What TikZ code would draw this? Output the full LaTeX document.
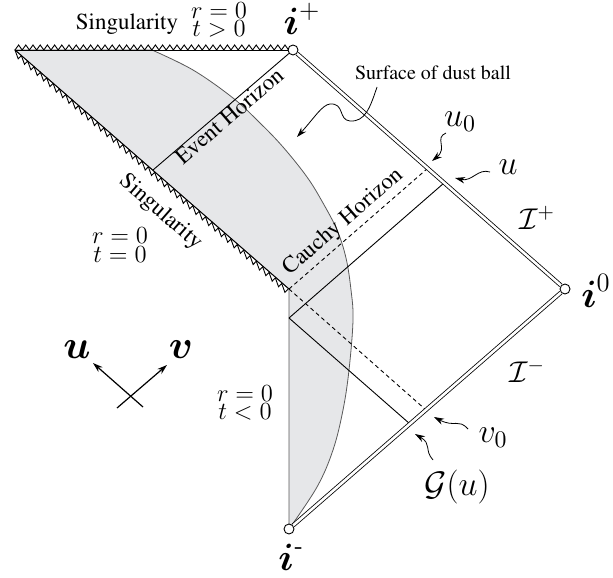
\RequirePackage{fix-cm}
\documentclass[tikz,border=0pt]{standalone}
\usepackage{amsmath}
\usepackage[T1]{fontenc}
\usepackage{times}
\usetikzlibrary{arrows.meta}
\definecolor{ballgray}{RGB}{230,231,233}

\begin{document}
\begin{tikzpicture}[x=0.5pt, y=-0.5pt, line width=0.45pt, >={Stealth[length=5pt,width=3.2pt]}]
  \tikzset{
    dot/.style={circle, draw, fill=white, minimum size=5pt, inner sep=0pt},
    scri/.style={draw=black, double=white, double distance=1.3pt, line width=0.4pt},
    cauchy/.style={dash pattern=on 2pt off 1.6pt},
    txt/.style={font=\fontsize{11.5}{11.5}\selectfont, inner sep=1pt},
    rt/.style={font=\fontsize{12.3}{9.2}\selectfont, align=center, inner sep=0pt},
    mlbl/.style={font=\fontsize{17}{17}\selectfont, inner sep=0pt},
    ilbl/.style={font=\fontsize{19}{19}\selectfont, inner sep=0pt},
    scrlbl/.style={font=\fontsize{15}{15}\selectfont, inner sep=0pt},
    squig/.style={->, line width=0.4pt}
  }
  \useasboundingbox (0,0) rectangle (613,577);

  % points of the diagram
  \coordinate (tl) at (15,50);
  \coordinate (cr) at (289,289);
  \coordinate (eh) at (153,170);
  \coordinate (uv) at (289,318);
  \coordinate (uo) at (428,168);
  \coordinate (ue) at (444,183);
  \coordinate (vo) at (426,410);
  \coordinate (ge) at (410,424);

  % dust ball
  \filldraw[fill=ballgray, draw=black!65, line width=0.4pt] (tl) -- plot[smooth, tension=0.6] coordinates {(152,50) (193,70) (233,98) (260,123) (283,147) (307,177) (323,203) (337,230) (346,258) (351,290) (353,320) (349,370) (343,410) (333,450) (317,487) (289,529)} -- (cr) -- cycle;

  \node[dot] (ip) at (293,50) {};
  \node[dot] (io) at (565,289) {};
  \node[dot] (im) at (289,529) {};

  % singularities
  \draw (tl) -- (ip);
  \draw (tl) \foreach \k in {1,...,38} { -- ++(3.6,-5) -- ++(3.6,5) };
  \draw (tl) -- node[sloped, below, txt, inner sep=8pt, pos=0.595] {Singularity} (cr);
  \draw (tl) \foreach \k in {1,...,43} { -- ++(3.175,8.78) -- ++(3.175,-3.22) };

  % horizons and rays
  \draw (eh) -- node[sloped, below, txt, inner sep=0pt, pos=0.52] {Event Horizon} (ip);
  \draw[cauchy] (cr) -- node[sloped, above, txt, inner sep=2pt, pos=0.46] {Cauchy Horizon} (uo);
  \draw[cauchy] (cr) -- (vo);
  \draw (uv) -- (ue);
  \draw (uv) -- (ge);

  % null infinity
  \draw[scri] (ip) -- (io);
  \draw[scri] (im) -- (io);

  % labels
  \node[txt] (singtop) at (127,24) {Singularity};
  \node[rt] (rtpos) at (219,20) {$r=0$\\$t>0$};
  \node[rt] (rtzero) at (120,245) {$r=0$\\$t=0$};
  \node[rt] (rtneg) at (245,403) {$r=0$\\$t<0$};
  \node[font=\fontsize{10}{10}\selectfont, inner sep=0pt] (surf) at (433,73) {Surface of dust ball};
  \node[ilbl] (iplbl) at (302,19) {$\boldsymbol{i}^{+}$};
  \node[ilbl] (iolbl) at (596,291) {$\boldsymbol{i}^{0}$};
  \node[ilbl] (imlbl) at (291,557) {$\boldsymbol{i}^{\textrm{-}}$};
  \node[mlbl] (u0lbl) at (460,122) {$u_0$};
  \node[mlbl] (ulbl) at (508,167) {$u$};
  \node[mlbl] (v0lbl) at (493,438) {$v_0$};
  \node[mlbl] (glbl) at (457,487) {$\mathcal{G}(u)$};
  \node[scrlbl] (scrp) at (537,218) {$\mathcal{I}^{+}$};
  \node[scrlbl] (scrm) at (527,371) {$\mathcal{I}^{-}$};

  % pointers
  \coordinate (surft) at (377,87);
  \coordinate (surfh) at (297,137);
  \coordinate (u0t) at (446,133);
  \coordinate (u0h) at (432,161);
  \coordinate (ut) at (490,172);
  \coordinate (uh) at (455,178);
  \coordinate (v0t) at (468,429);
  \coordinate (v0h) at (434,417);
  \coordinate (gt) at (433,460);
  \coordinate (gh) at (415,434);
  \draw[squig] (surft) .. controls (370,108) and (365,122) .. (350,121) .. controls (338,120) and (345,103) .. (330,104) .. controls (322,105) and (315,117) .. (surfh);
  \draw[squig] (u0t) .. controls (434,138) and (448,148) .. (u0h);
  \draw[squig] (ut) .. controls (478,168) and (472,182) .. (uh);
  \draw[squig] (v0t) .. controls (458,418) and (455,428) .. (v0h);
  \draw[squig] (gt) .. controls (424,450) and (432,444) .. (gh);

  % u and v directions
  \coordinate (axut) at (143,407);
  \coordinate (axuh) at (93,363);
  \coordinate (axvt) at (117,408);
  \coordinate (axvh) at (167,365);
  \draw[->, line width=0.6pt] (axut) -- (axuh);
  \draw[->, line width=0.6pt] (axvt) -- (axvh);
  \node[font=\fontsize{20}{20}\selectfont, inner sep=0pt] (axu) at (77,350) {$\boldsymbol{u}$};
  \node[font=\fontsize{20}{20}\selectfont, inner sep=0pt] (axv) at (181,350) {$\boldsymbol{v}$};
\end{tikzpicture}
\end{document}
